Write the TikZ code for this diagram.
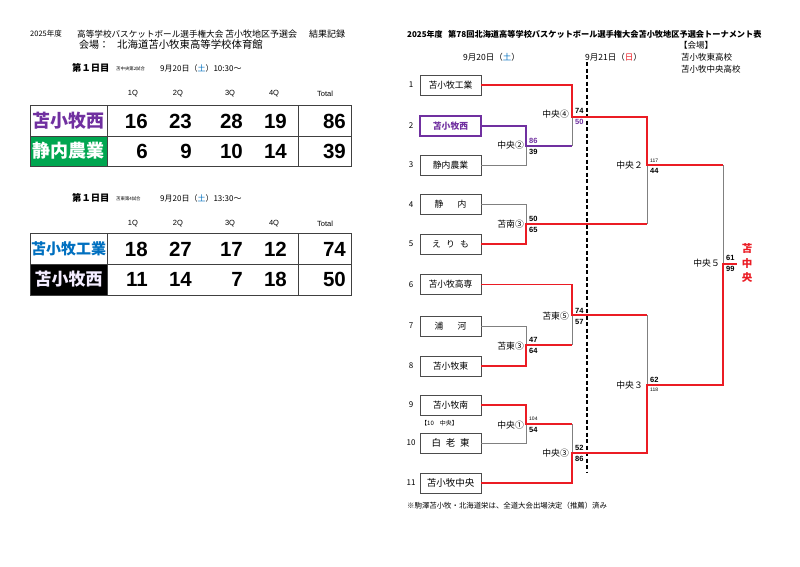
\documentclass[tikz,border=0pt]{standalone}
\usepackage{fontspec}
\setmainfont{Liberation Sans}
\newfontfamily\jp{Noto Sans CJK JP}
\newfontfamily\numf{Liberation Sans}
\newcommand\myfs[1]{\fontsize{#1}{#1}\selectfont}
\definecolor{lred}{RGB}{235,28,36}
\definecolor{lpurple}{RGB}{112,48,160}
\definecolor{lgreen}{RGB}{0,166,80}
\definecolor{lblue}{RGB}{0,112,192}
\definecolor{lgray}{RGB}{128,128,128}
\definecolor{llav}{RGB}{244,236,255}
\tikzset{
  txt/.style={inner sep=0pt, anchor=west, font=\jp\myfs{#1}},
  tbl/.style={draw=black!75, line width=0.8pt},
  tname/.style={inner sep=0pt, font=\jp\bfseries\myfs{#1}},
  tnum/.style={inner sep=0pt, anchor=east, font=\numf\bfseries\myfs{20.5}},
  qhead/.style={inner sep=0pt, font=\numf\myfs{7.5}},
  team/.style={draw=black!70, line width=0.6pt, minimum width=61pt, minimum height=20pt, inner sep=0pt, font=\jp\myfs{8.8}},
  tno/.style={inner sep=0pt, font=\jp\myfs{8}},
  rl/.style={draw=lred, line width=1.8pt},
  pl/.style={draw=lpurple, line width=1.8pt},
  gl/.style={draw=lgray, line width=0.7pt},
  rnd/.style={inner sep=0pt, anchor=east, font=\jp\myfs{8.8}},
  sc/.style={inner sep=0pt, anchor=west, font=\numf\bfseries\myfs{7.5}},
  scs/.style={inner sep=0pt, anchor=west, font=\numf\myfs{5}},
  dline/.style={draw=black, line width=1.3pt, dash pattern=on 4pt off 2.5pt},
}
\begin{document}
\begin{tikzpicture}[x=1pt,y=-1pt]
\useasboundingbox (0,0) rectangle (800,566);
\fill[white] (0,0) rectangle (800,566);

% ---------------- left: header ----------------
\node[txt=7.5] (h1) at (30,34) {2025年度};
\node[txt=8.6] (h2) at (77,34) {高等学校バスケットボール選手権大会};
\node[txt=9] (h3) at (225,34) {苫小牧地区予選会};
\node[txt=9] (h4) at (309,34) {結果記録};
\node[txt=10] (h5) at (79,45) {会場：};
\node[txt=10.4] (h6) at (117,45) {北海道苫小牧東高等学校体育館};

% ---------------- game 1 ----------------
\node[txt=9.3, font=\jp\bfseries\myfs{9.3}] (d1) at (72,68) {第１日目};
\node[txt=4.4] (d1s) at (116,68.5) {苫中央第2試合};
\node[txt=8] (d1t) at (160,68) {9月20日（\textcolor{lblue}{土}）10:30〜};
\node[qhead] (q11) at (133,94) {1Q};
\node[qhead] (q12) at (178,94) {2Q};
\node[qhead] (q13) at (230,94) {3Q};
\node[qhead] (q14) at (274,94) {4Q};
\node[qhead] (q15) at (325,94) {Total};
\fill[lgreen] (30,136) rectangle (107,166);
\draw[tbl] (30,105) rectangle (351,166);
\draw[tbl] (30,136) -- (351,136);
\draw[tbl] (107,105) -- (107,166);
\draw[tbl] (298,105) -- (298,166);
\node[tname=18, text=lpurple] (g1a) at (68.5,121) {苫小牧西};
\node[tname=18, text=white] (g1b) at (68.5,151) {静内農業};
\node[tnum] at (148,121.5) {16};
\node[tnum] at (192,121.5) {23};
\node[tnum] at (243,121.5) {28};
\node[tnum] at (287,121.5) {19};
\node[tnum] at (346,121.5) {86};
\node[tnum] at (148,151) {6};
\node[tnum] at (192,151) {9};
\node[tnum] at (243,151) {10};
\node[tnum] at (287,151) {14};
\node[tnum] at (346,151) {39};

% ---------------- game 2 ----------------
\node[txt=9.3, font=\jp\bfseries\myfs{9.3}] (d2) at (72,198) {第１日目};
\node[txt=4.4] (d2s) at (116,198.5) {苫東第4試合};
\node[txt=8] (d2t) at (160,198) {9月20日（\textcolor{lblue}{土}）13:30〜};
\node[qhead] (q21) at (133,224) {1Q};
\node[qhead] (q22) at (178,224) {2Q};
\node[qhead] (q23) at (230,224) {3Q};
\node[qhead] (q24) at (274,224) {4Q};
\node[qhead] (q25) at (325,224) {Total};
\fill[black] (30,264) rectangle (107,295);
\draw[tbl] (30,233) rectangle (351,295);
\draw[tbl] (30,264) -- (351,264);
\draw[tbl] (107,233) -- (107,295);
\draw[tbl] (298,233) -- (298,295);
\node[tname=15, text=lblue] (g2a) at (68.5,249) {苫小牧工業};
\node[tname=17, text=llav] (g2b) at (68.5,279.5) {苫小牧西};
\node[tnum] at (148,249) {18};
\node[tnum] at (192,249) {27};
\node[tnum] at (243,249) {17};
\node[tnum] at (287,249) {12};
\node[tnum] at (346,249) {74};
\node[tnum] at (148,279.5) {11};
\node[tnum] at (192,279.5) {14};
\node[tnum] at (243,279.5) {7};
\node[tnum] at (287,279.5) {18};
\node[tnum] at (346,279.5) {50};

% ---------------- right: header ----------------
\node[txt=8, font=\jp\bfseries\myfs{8}] (r1) at (407,34) {2025年度};
\node[txt=8, font=\jp\bfseries\myfs{8.2}] (r2) at (448,34) {第78回北海道高等学校バスケットボール選手権大会苫小牧地区予選会トーナメント表};
\node[txt=8.5] (r3) at (679,45.5) {【会場】};
\node[txt=8.5] (r4) at (463,57) {9月20日（\textcolor{lblue}{土}）};
\node[txt=8.5] (r5) at (585,57) {9月21日（\textcolor{lred}{日}）};
\node[txt=8.5] (r6) at (681,57) {苫小牧東高校};
\node[txt=8.5] (r7) at (681,69) {苫小牧中央高校};

\draw[dline] (587,62) -- (587,473);

% ---------------- teams ----------------
\node[team] (t1) at (450.5,85) {苫小牧工業};
\node[team, draw=lpurple, line width=1.8pt, text=lpurple, font=\jp\bfseries\myfs{8.8}] (t2) at (450.5,126) {苫小牧西};
\node[team] (t3) at (450.5,165) {静内農業};
\node[team] (t4) at (450.5,204.5) {静\hspace{1.6em}内};
\node[team] (t5) at (450.5,244) {え\hspace{0.6em}り\hspace{0.6em}も};
\node[team] (t6) at (450.5,284.5) {苫小牧高専};
\node[team] (t7) at (450.5,326) {浦\hspace{1.6em}河};
\node[team] (t8) at (450.5,366) {苫小牧東};
\node[team] (t9) at (450.5,405) {苫小牧南};
\node[team, font=\jp\myfs{9.5}] (t10) at (450.5,443) {白\hspace{0.5em}老\hspace{0.5em}東};
\node[team, font=\jp\myfs{9.5}] (t11) at (450.5,483) {苫小牧中央};
\node[tno] (n1) at (411,85) {1};
\node[tno] (n2) at (411,126) {2};
\node[tno] (n3) at (411,165) {3};
\node[tno] (n4) at (411,204.5) {4};
\node[tno] (n5) at (411,244) {5};
\node[tno] (n6) at (411,284.5) {6};
\node[tno] (n7) at (411,326) {7};
\node[tno] (n8) at (411,366) {8};
\node[tno] (n9) at (411,405) {9};
\node[tno] (n10) at (411,443) {10};
\node[tno] (n11) at (411,483) {11};
\node[txt=6] (note10) at (421,423.5) {【10\hspace{1em}中央】};

% ---------------- junctions ----------------
\coordinate (m1) at (526,146);
\coordinate (m2) at (572,117);
\coordinate (m3) at (526,224);
\coordinate (m4) at (647,165);
\coordinate (m5) at (526,345);
\coordinate (m6) at (572,315);
\coordinate (m7) at (526,424);
\coordinate (m8) at (572,453);
\coordinate (m9) at (647,385);
\coordinate (m10) at (723,264);
\coordinate (ch) at (737,264);

% losers (gray)
\draw[gl] (t3.east) -| (m1);
\draw[gl] (m1 -| m2) -- (m2);
\draw[gl] (t4.east) -| (m3);
\draw[gl] (m3 -| m4) -- (m4);
\draw[gl] (t7.east) -| (m5);
\draw[gl] (m5 -| m6) -- (m6);
\draw[gl] (t10.east) -| (m7);
\draw[gl] (m7 -| m8) -- (m8);
\draw[gl] (m6 -| m9) -- (m9);
\draw[gl] (m4 -| m10) -- (m10);

% winners
\draw[pl] (t2.east) -| (m1) -- (m1 -| m2);
\draw[rl] (t1.east) -| (m2) -| (m4) -- (m4 -| m10);
\draw[rl] (t5.east) -| (m3) -- (m3 -| m4);
\draw[rl] (t6.east) -| (m6) -- (m6 -| m9);
\draw[rl] (t8.east) -| (m5) -- (m5 -| m6);
\draw[rl] (t9.east) -| (m7) -- (m7 -| m8);
\draw[rl] (t11.east) -| (m8) -| (m9) -| (m10) -- (ch);

% ---------------- round labels ----------------
\node[rnd] (k1) at (524,145.5) {中央②};
\node[rnd] (k2) at (569,114) {中央④};
\node[rnd] (k3) at (524,224) {苫南③};
\node[rnd] (k4) at (524,346) {苫東③};
\node[rnd] (k5) at (569,316) {苫東⑤};
\node[rnd] (k6) at (524,425.5) {中央①};
\node[rnd] (k7) at (569,453) {中央③};
\node[rnd] (k8) at (643,165) {中央２};
\node[rnd] (k9) at (643,385) {中央３};
\node[rnd] (k10) at (720,263.5) {中央５};

% ---------------- scores ----------------
\node[sc, text=lpurple] (s1a) at (529,140.5) {86};
\node[sc] (s1b) at (529,152) {39};
\node[sc] (s2a) at (575,111) {74};
\node[sc, text=lpurple] (s2b) at (575,122) {50};
\node[sc] (s3a) at (529,219) {50};
\node[sc] (s3b) at (529,229.5) {65};
\node[sc] (s4a) at (529,340) {47};
\node[sc] (s4b) at (529,351) {64};
\node[sc] (s5a) at (575,310.5) {74};
\node[sc] (s5b) at (575,321.5) {57};
\node[scs] (s6a) at (529,418.5) {104};
\node[sc] (s6b) at (529,429.5) {54};
\node[sc] (s7a) at (575,448) {52};
\node[sc] (s7b) at (575,458.5) {86};
\node[scs] (s8a) at (650,160.5) {117};
\node[sc] (s8b) at (650,171) {44};
\node[sc] (s9a) at (650,379.5) {62};
\node[scs] (s9b) at (650,390) {118};
\node[sc] (s10a) at (726,258) {61};
\node[sc] (s10b) at (726,269) {99};

\node[inner sep=0pt, align=center, text=lred, font=\jp\bfseries\fontsize{10.5}{14.5}\selectfont] (champ) at (747,263) {苫\\中\\央};

\node[txt=7.4] (foot) at (407,506) {※駒澤苫小牧・北海道栄は、全道大会出場決定（推薦）済み};
\end{tikzpicture}
\end{document}
